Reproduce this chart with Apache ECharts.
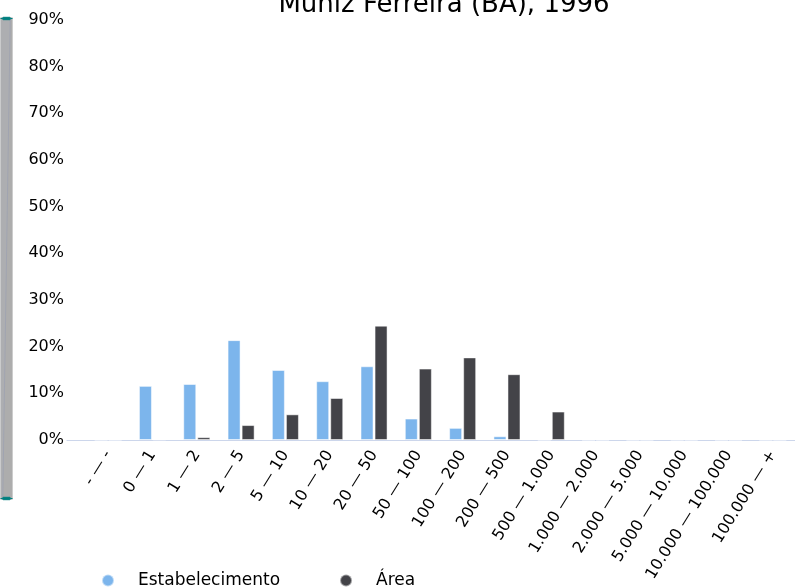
<!DOCTYPE html>
<html>
<head>
<meta charset="utf-8">
<script src="https://cdn.jsdelivr.net/npm/echarts@6/dist/echarts.min.js"></script>
<style>
    html, body { margin: 0; padding: 0; background: #fff; }
    #main { width: 795px; height: 587px; }
</style>
</head>
<body>
<div id="main"></div>
<script>
// dados
var categorias = ["- — -", "0 — 1", "1 — 2", "2 — 5", "5 — 10", "10 — 20", "20 — 50", "50 — 100",
    "100 — 200", "200 — 500", "500 — 1.000", "1.000 — 2.000", "2.000 — 5.000",
    "5.000 — 10.000", "10.000 — 100.000", "100.000 — +"];
var estabelecimento = [0, 11.6, 12.0, 21.4, 15.0, 12.6, 15.8, 4.6, 2.6, 0.8, 0, 0, 0, 0, 0, 0];
var area = [0, 0.1, 0.6, 3.2, 5.5, 9.0, 24.5, 15.3, 17.7, 14.1, 6.1, 0, 0, 0, 0, 0];
var nomes = ["Estabelecimento", "Área"];

(function () {
    var myCharts = echarts.init(document.getElementById("main"));
    var fonte = "DejaVu Sans";

    var option = {
        animation: false,
        color: ["#7cb5ec", "#434348"],
        title: {
            text: "Muniz Ferreira (BA), 1996",
            left: 439,
            top: -13,
            textAlign: "center",
            textStyle: { fontFamily: fonte, fontSize: 26, fontWeight: "normal", color: "#000" }
        },
        legend: {
            bottom: -7,
            left: 96,
            icon: "circle",
            itemWidth: 12,
            itemHeight: 12,
            itemGap: 59,
            textStyle: { fontFamily: fonte, fontSize: 17, color: "#000", padding: [0, 0, 0, 19] },
            data: nomes
        },
        // grid 0: barras; grid 1: só a linha do eixo x (começa mais à esquerda)
        grid: [{
            left: 86,
            right: -10,
            top: 20,
            bottom: 147
        }, {
            left: 67,
            right: 0,
            top: 20,
            bottom: 147
        }],
        dataZoom: [{
            type: "slider",
            yAxisIndex: 0,
            filterMode: "none",
            left: 0,
            width: 12,
            top: 15,
            bottom: 90,
            start: 0,
            end: 100,
            showDetail: false,
            borderColor: "transparent",
            backgroundColor: "#c0c0c0",
            fillerColor: "rgba(160,160,160,0.6)",
            handleStyle: { color: "#008080", borderColor: "#008080" },
            moveHandleSize: 0
        }],
        xAxis: [{
            type: "category",
            gridIndex: 0,
            data: categorias,
            axisLine: { show: false },
            axisTick: { show: false },
            axisLabel: {
                rotate: 58,
                interval: 0,
                fontFamily: fonte,
                fontSize: 16,
                color: "#000",
                margin: 12
            }
        }, {
            type: "value",
            gridIndex: 1,
            min: 0,
            max: 1,
            axisLine: { show: true, lineStyle: { color: "#ccd6eb" } },
            axisTick: { show: false },
            axisLabel: { show: false },
            splitLine: { show: false }
        }],
        yAxis: [{
            type: "value",
            gridIndex: 0,
            min: 0,
            max: 90,
            interval: 10,
            axisLine: { show: false },
            axisTick: { show: false },
            splitLine: { show: false },
            axisLabel: {
                formatter: "{value}%",
                fontFamily: fonte,
                fontSize: 16,
                color: "#000",
                margin: 22
            }
        }, {
            type: "value",
            gridIndex: 1,
            min: 0,
            max: 1,
            show: false
        }],
        series: [{
            name: nomes[0],
            type: "bar",
            barWidth: 13,
            barGap: "8%",
            data: estabelecimento,
            itemStyle: { borderColor: "rgba(255,255,255,0.5)", borderWidth: 1 }
        }, {
            name: nomes[1],
            type: "bar",
            barWidth: 13,
            data: area,
            itemStyle: { borderColor: "rgba(255,255,255,0.5)", borderWidth: 1 }
        }]
    };

    myCharts.setOption(option);
})();
</script>
</body>
</html>
